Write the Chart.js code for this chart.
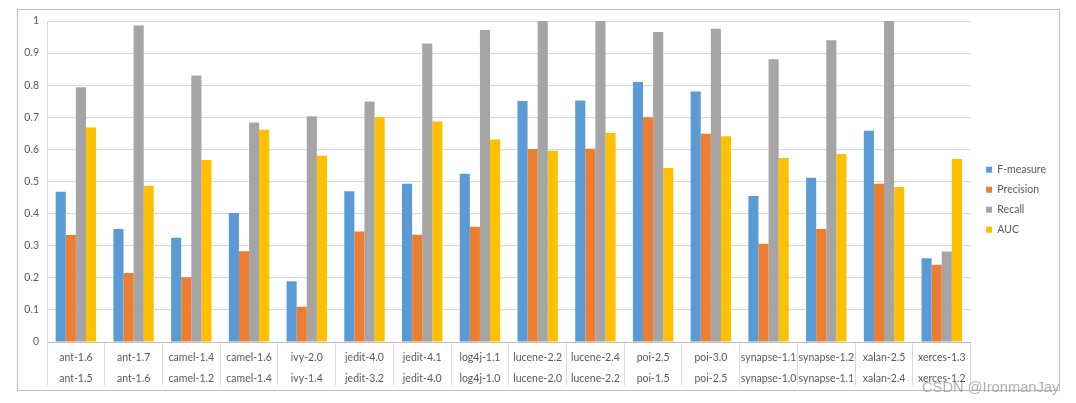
<!DOCTYPE html>
<html>
<head>
<meta charset="utf-8">
<script src="https://cdn.jsdelivr.net/npm/chart.js@4/dist/chart.umd.min.js"></script>
<style>
    html, body { margin: 0; padding: 0; background: #fff; }
    #wrap { position: relative; width: 1076px; height: 403px; }
    #watermark {
        position: absolute; left: 922px; top: 379px;
        font: 14.7px "Liberation Sans", Arial, sans-serif;
        color: rgba(150, 150, 150, 0.75);
        white-space: nowrap;
    }
</style>
</head>
<body>
<div id="wrap">
    <canvas id="chart" width="1076" height="403"></canvas>
    <div id="watermark">CSDN @IronmanJay</div>
</div>
<script>
// target project / source project
const targets = ['ant-1.6', 'ant-1.7', 'camel-1.4', 'camel-1.6', 'ivy-2.0', 'jedit-4.0', 'jedit-4.1', 'log4j-1.1',
    'lucene-2.2', 'lucene-2.4', 'poi-2.5', 'poi-3.0', 'synapse-1.1', 'synapse-1.2', 'xalan-2.5', 'xerces-1.3'];
const sources = ['ant-1.5', 'ant-1.6', 'camel-1.2', 'camel-1.4', 'ivy-1.4', 'jedit-3.2', 'jedit-4.0', 'log4j-1.0',
    'lucene-2.0', 'lucene-2.2', 'poi-1.5', 'poi-2.5', 'synapse-1.0', 'synapse-1.1', 'xalan-2.4', 'xerces-1.2'];

const fMeasure  = [0.468, 0.352, 0.325, 0.402, 0.189, 0.470, 0.493, 0.524, 0.751, 0.752, 0.810, 0.780, 0.455, 0.512, 0.658, 0.261];
const precision = [0.333, 0.215, 0.202, 0.283, 0.110, 0.344, 0.334, 0.359, 0.601, 0.602, 0.700, 0.649, 0.306, 0.352, 0.493, 0.241];
const recall    = [0.794, 0.986, 0.830, 0.684, 0.703, 0.749, 0.930, 0.972, 1.000, 1.000, 0.966, 0.976, 0.881, 0.940, 1.000, 0.282];
const auc       = [0.668, 0.487, 0.567, 0.661, 0.580, 0.701, 0.687, 0.631, 0.596, 0.651, 0.542, 0.641, 0.573, 0.586, 0.483, 0.570];

const yTicks = [0, 0.1, 0.2, 0.3, 0.4, 0.5, 0.6, 0.7, 0.8, 0.9, 1];

const FONT = '"Lato", "Liberation Sans", sans-serif';
const TEXT_COLOR = '#595959';
const GRID_COLOR = '#D9D9D9';

// outer frame like the office chart border
const framePlugin = {
    id: 'frame',
    beforeDraw(chart) {
        const ctx = chart.ctx;
        ctx.save();
        ctx.fillStyle = '#fff';
        ctx.fillRect(0, 0, chart.width, chart.height);
        ctx.strokeStyle = '#BFBFBF';
        ctx.lineWidth = 1;
        ctx.strokeRect(17.5, 9.5, 1042, 381);
        ctx.restore();
    }
};

const makeSet = (label, data, color) => ({
    label: label,
    data: data,
    backgroundColor: color,
    borderWidth: 0,
    categoryPercentage: 0.70,
    barPercentage: 1.0
});

new Chart(document.getElementById('chart'), {
    type: 'bar',
    data: {
        labels: targets.map((t, i) => [t, sources[i]]),
        datasets: [
            makeSet('F-measure', fMeasure, '#5B9BD5'),
            makeSet('Precision', precision, '#ED7D31'),
            makeSet('Recall', recall, '#A5A5A5'),
            makeSet('AUC', auc, '#FFC000')
        ]
    },
    options: {
        responsive: false,
        animation: false,
        layout: {
            padding: { left: 17, top: 21, right: 20, bottom: 13 }
        },
        scales: {
            x: {
                grid: {
                    display: true,
                    drawOnChartArea: false,
                    drawTicks: true,
                    tickLength: 43,
                    color: GRID_COLOR
                },
                border: { color: '#BFBFBF' },
                ticks: {
                    color: TEXT_COLOR,
                    font: { family: FONT, size: 10.5, lineHeight: 2.0 },
                    padding: -38,
                    maxRotation: 0,
                    autoSkip: false
                },
                afterFit(scale) { scale.height = 48; }
            },
            y: {
                min: 0,
                max: 1,
                afterBuildTicks(scale) { scale.ticks = yTicks.map(v => ({ value: v })); },
                grid: { color: GRID_COLOR, drawTicks: false },
                border: { color: GRID_COLOR },
                ticks: {
                    color: TEXT_COLOR,
                    font: { family: FONT, size: 10.5 },
                    padding: 8,
                    callback: v => String(v)
                },
                afterFit(scale) { scale.width = 30; }
            },
            // empty spacer between plot and legend
            gap: {
                type: 'linear',
                position: 'right',
                display: true,
                grid: { display: false },
                border: { display: false },
                ticks: { display: false },
                afterFit(scale) { scale.width = 6; }
            }
        },
        plugins: {
            legend: {
                position: 'right',
                align: 'start',
                // empty title only used to push the entries down
                title: {
                    display: true,
                    text: '',
                    font: { size: 10, lineHeight: 1 },
                    padding: { top: 124, bottom: 0 }
                },
                labels: {
                    boxWidth: 6,
                    boxHeight: 6,
                    padding: 9.5,
                    color: TEXT_COLOR,
                    font: { family: FONT, size: 10.5 }
                }
            },
            tooltip: { enabled: false }
        }
    },
    plugins: [framePlugin]
});
</script>
</body>
</html>
